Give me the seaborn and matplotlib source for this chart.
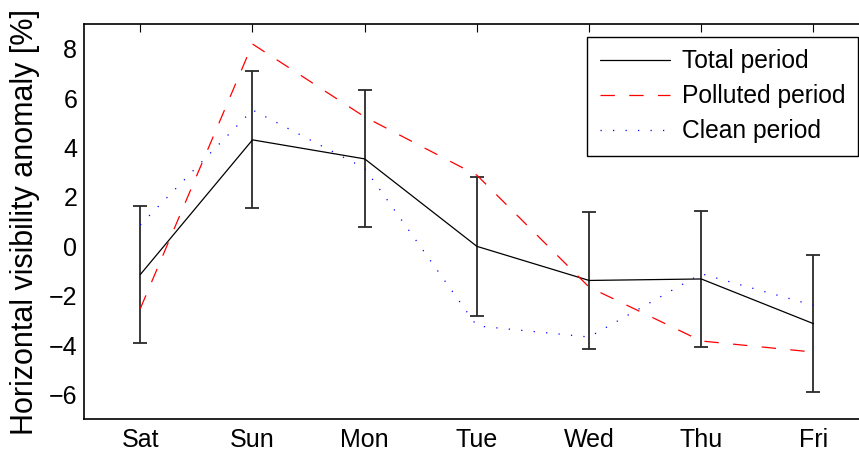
import matplotlib
matplotlib.use("Agg")
import matplotlib.pyplot as plt
import seaborn as sns
import pandas as pd
import numpy as np

days = ["Sat", "Sun", "Mon", "Tue", "Wed", "Thu", "Fri"]
total = [-1.14, 4.31, 3.54, 0.0, -1.38, -1.32, -3.13]
total_err = [2.77, 2.77, 2.77, 2.81, 2.77, 2.77, 2.77]
polluted = [-2.52, 8.19, 5.24, 2.88, -1.65, -3.83, -4.28]
clean = [0.87, 5.52, 3.16, -3.22, -3.67, -1.11, -2.39]
yticks = [-6, -4, -2, 0, 2, 4, 6, 8]
labels = ["Total period", "Polluted period", "Clean period"]

sns.set_style("white")
plt.rcParams["font.family"] = ["Liberation Sans", "DejaVu Sans"]
plt.rcParams.update({"text.color": "black", "axes.labelcolor": "black",
                     "xtick.color": "black", "ytick.color": "black"})

fig = plt.figure(figsize=(8.59, 4.51), dpi=100)
ax = fig.add_axes([84.2 / 859, (451 - 419.3) / 451, 785.4 / 859, (419.3 - 24) / 451])

df = pd.DataFrame({"day": days, "total": total, "polluted": polluted, "clean": clean})
pos = np.arange(len(days))

# error bars of total period
ax.errorbar(pos, total, yerr=total_err, fmt="none", ecolor="#2a2a2a",
            elinewidth=1.3, capsize=5, capthick=1.3, zorder=2)

sns.lineplot(data=df, x="day", y="total", ax=ax, color="black", lw=0.9,
             label=labels[0], sort=False, zorder=3)
sns.lineplot(data=df, x="day", y="polluted", ax=ax, color="red", lw=0.9,
             linestyle=(0, (11.5, 11.5)), label=labels[1], sort=False, zorder=3)
sns.lineplot(data=df, x="day", y="clean", ax=ax, color="blue", lw=0.9,
             linestyle=(0, (1, 9)), label=labels[2], sort=False, zorder=3)

ax.set_xlim(-0.5, 6.5)
ax.set_ylim(-7, 9)
ax.set_xticks(pos)
ax.set_xticklabels(days)
ax.set_yticks(yticks)
ax.set_xlabel("")
ax.set_ylabel("Horizontal visibility anomaly [%]", fontsize=22, labelpad=6)
ax.tick_params(axis="both", direction="in", length=6, width=0.8, labelsize=18,
               top=True, right=False)
ax.tick_params(axis="x", pad=6)
ax.tick_params(axis="y", pad=5)
for s in ax.spines.values():
    s.set_color("black")
    s.set_linewidth(1.2)
ax.spines["right"].set_visible(False)

leg = ax.legend(loc="upper right", bbox_to_anchor=(857.7 / 859, 1 - 37.0 / 451),
                bbox_transform=fig.transFigure, borderaxespad=0, fontsize=17.7,
                frameon=True, fancybox=False, edgecolor="black", framealpha=1,
                handlelength=2.85, handletextpad=0.5, labelspacing=0.45,
                borderpad=0.5)
leg.get_frame().set_linewidth(1.0)

fig.savefig("out.png", dpi=100)
